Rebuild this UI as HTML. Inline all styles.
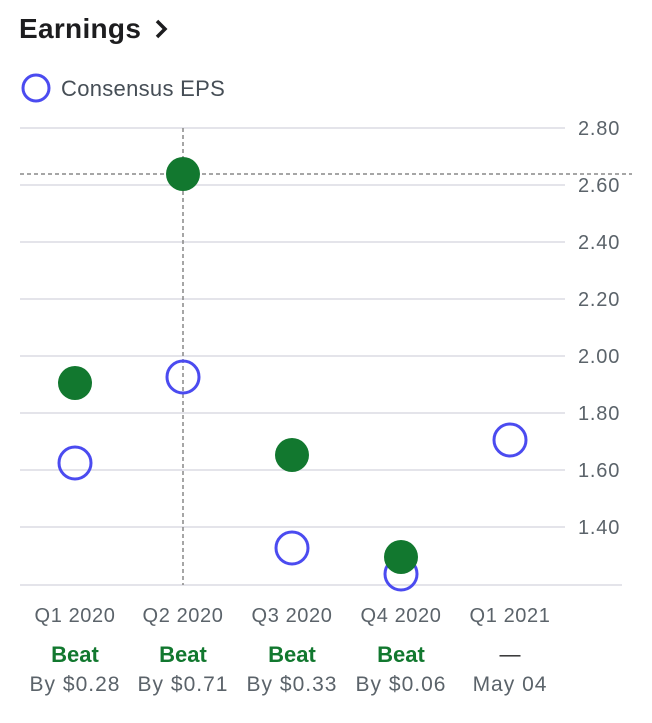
<!DOCTYPE html>
<html><head><style>
body{margin:0;background:#fff;width:652px;height:718px;overflow:hidden;font-family:"Liberation Sans",sans-serif;}
</style></head><body>
<svg width="652" height="718" xmlns="http://www.w3.org/2000/svg" font-family="Liberation Sans, sans-serif">
<text x="19" y="38" font-size="28" font-weight="bold" fill="#1d1d1f" letter-spacing="0.3">Earnings</text>
<path d="M157 21 L165 29 L157 37" fill="none" stroke="#1d1d1f" stroke-width="3.5"/>
<circle cx="36" cy="88" r="13" fill="none" stroke="#4b4bf0" stroke-width="3"/>
<text x="61" y="96" font-size="22" fill="#464e56" letter-spacing="0.3">Consensus EPS</text>
<g stroke="#dcdce4" stroke-width="1.5">
<line x1="20" x2="565" y1="128" y2="128"/>
<line x1="20" x2="565" y1="185" y2="185"/>
<line x1="20" x2="565" y1="242" y2="242"/>
<line x1="20" x2="565" y1="299" y2="299"/>
<line x1="20" x2="565" y1="356" y2="356"/>
<line x1="20" x2="565" y1="413" y2="413"/>
<line x1="20" x2="565" y1="470" y2="470"/>
<line x1="20" x2="565" y1="527" y2="527"/>
<line x1="20" x2="622" y1="585" y2="585"/>
</g>
<g font-size="20" fill="#5b636a" letter-spacing="0.8">
<text x="578" y="135">2.80</text>
<text x="578" y="192">2.60</text>
<text x="578" y="249">2.40</text>
<text x="578" y="306">2.20</text>
<text x="578" y="363">2.00</text>
<text x="578" y="420">1.80</text>
<text x="578" y="477">1.60</text>
<text x="578" y="534">1.40</text>
</g>
<line x1="183" x2="183" y1="128" y2="585" stroke="#888" stroke-width="1.5" stroke-dasharray="4,3"/>
<line x1="20" x2="632" y1="174" y2="174" stroke="#888" stroke-width="1.5" stroke-dasharray="4,3"/>
<g fill="none" stroke="#4b4bf0" stroke-width="3">
<circle cx="75" cy="463" r="16"/>
<circle cx="183" cy="377" r="16"/>
<circle cx="292" cy="548" r="16"/>
<circle cx="401" cy="574" r="16"/>
<circle cx="510" cy="440" r="16"/>
</g>
<g fill="#12782f">
<circle cx="75" cy="383" r="17"/>
<circle cx="183" cy="174" r="17"/>
<circle cx="292" cy="455" r="17"/>
<circle cx="401" cy="557" r="17"/>
</g>
<g font-size="20" fill="#5b636a" text-anchor="middle" letter-spacing="0.6">
<text x="75" y="622">Q1 2020</text>
<text x="183" y="622">Q2 2020</text>
<text x="292" y="622">Q3 2020</text>
<text x="401" y="622">Q4 2020</text>
<text x="510" y="622">Q1 2021</text>
</g>
<g font-size="22" font-weight="bold" fill="#12782f" text-anchor="middle">
<text x="75" y="662">Beat</text>
<text x="183" y="662">Beat</text>
<text x="292" y="662">Beat</text>
<text x="401" y="662">Beat</text>
</g>
<text x="510" y="661" font-size="21" fill="#1d1d1f" text-anchor="middle">—</text>
<g font-size="21" fill="#5b636a" text-anchor="middle" letter-spacing="1">
<text x="75" y="691">By $0.28</text>
<text x="183" y="691">By $0.71</text>
<text x="292" y="691">By $0.33</text>
<text x="401" y="691">By $0.06</text>
<text x="510" y="691">May 04</text>
</g>
</svg>
</body></html>
